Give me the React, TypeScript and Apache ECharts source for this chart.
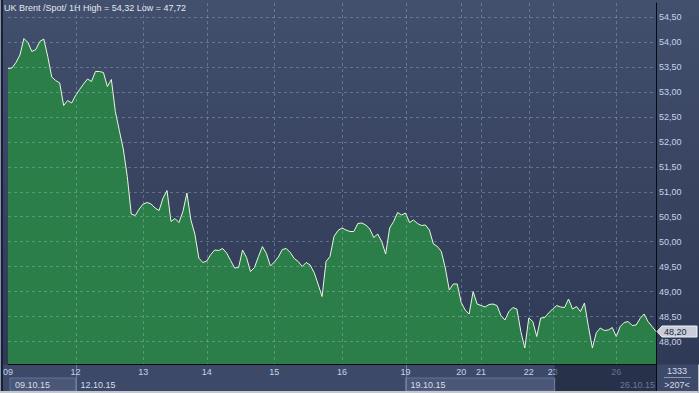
import React, { useEffect, useRef } from 'react';
import * as echarts from 'echarts';

// Hourly UK Brent spot values (left to right)
const values: number[] = [
  53.46, 53.47, 53.58, 53.73, 54.06, 53.98, 53.80, 53.84, 54.00, 54.05,
  53.70, 53.29, 53.22, 53.17, 52.72, 52.82, 52.77, 52.92, 53.04, 53.15,
  53.25, 53.20, 53.40, 53.40, 53.38, 53.10, 53.24, 52.60, 52.22, 51.85,
  51.30, 50.55, 50.52, 50.65, 50.75, 50.78, 50.75, 50.67, 50.62, 50.87,
  51.02, 50.40, 50.46, 50.38, 50.60, 50.97, 50.43, 50.15, 49.67, 49.58,
  49.61, 49.74, 49.83, 49.82, 49.86, 49.77, 49.62, 49.47, 49.48, 49.83,
  49.68, 49.40, 49.48, 49.70, 49.90, 49.76, 49.51, 49.59, 49.69, 49.84,
  49.86, 49.78, 49.66, 49.60, 49.50, 49.58, 49.53, 49.38, 49.15, 48.90,
  49.60, 49.70, 50.10, 50.22, 50.27, 50.23, 50.20, 50.20, 50.36, 50.37,
  50.33, 50.25, 50.08, 50.15, 50.00, 49.75, 50.27, 50.40, 50.58, 50.53,
  50.57, 50.38, 50.43, 50.36, 50.32, 50.33, 50.23, 49.95, 49.90, 49.80,
  49.47, 49.03, 49.15, 49.15, 48.78, 48.63, 48.55, 49.00, 48.75, 48.72,
  48.69, 48.74, 48.75, 48.72, 48.52, 48.43, 48.60, 48.68, 48.65, 48.20,
  47.87, 48.47, 48.40, 48.10, 48.47, 48.48, 48.57, 48.65, 48.72, 48.69,
  48.68, 48.85, 48.65, 48.70, 48.60, 48.77, 48.30, 47.87, 48.18, 48.27,
  48.22, 48.23, 48.28, 48.10, 48.30, 48.38, 48.40, 48.32, 48.33, 48.46,
  48.55, 48.40, 48.30, 48.20,
];

// Day ticks on the time axis (label, data index)
const dayLabels: string[] = ['09', '12', '13', '14', '15', '16', '19', '20', '21', '22', '23', '26'];
const dayIndex: number[] = [0, 17, 34, 50, 67, 84, 100, 114, 119, 131, 137, 153];

// Price ticks on the right axis
const yTicks: number[] = [48, 48.5, 49, 49.5, 50, 50.5, 51, 51.5, 52, 52.5, 53, 53.5, 54, 54.5];

// Week starts shown in the bottom bar
const weekLabels: string[] = ['09.10.15', '12.10.15', '19.10.15', '26.10.15'];
const weekIndex: number[] = [0, 17, 100, 153];

const titleText = 'UK Brent /Spot/ 1H High = 54,32 Low = 47,72';
const counterTop = '1333';
const counterBottom = '>207<';

const FONT = "'Liberation Sans', Arial, sans-serif";
const GRID_COLOR = 'rgba(170,190,225,0.36)';

export default function App() {
  const ref = useRef<HTMLDivElement>(null);

  useEffect(() => {
    document.body.style.margin = '0';
    if (!ref.current) return;
    const chart = echarts.init(ref.current, null, { renderer: 'svg' });
    const categories = values.map((_, i) => String(i));
    const labelAt: Record<number, string> = {};
    dayIndex.forEach((idx, k) => {
      labelAt[idx] = dayLabels[k];
    });
    const isDay = (i: number) => labelAt[i] !== undefined;
    const fmt = (v: number) => v.toFixed(2).replace('.', ',');

    chart.setOption({
      animation: false,
      backgroundColor: 'transparent',
      title: {
        text: titleText,
        left: 4,
        top: 3,
        padding: 0,
        textStyle: { color: '#e3e8f0', fontSize: 9, fontWeight: 'normal', fontFamily: FONT },
        z: 20,
      },
      grid: { left: 3, right: 43, top: 3, bottom: 29 },
      xAxis: {
        type: 'category',
        data: categories,
        boundaryGap: false,
        z: 6,
        axisLine: { lineStyle: { color: '#070a12', width: 1 } },
        axisTick: { show: false },
        axisLabel: {
          interval: (i: number) => isDay(i),
          formatter: (_v: string, i: number) => labelAt[i] ?? '',
          color: '#c6d3ea',
          fontSize: 9,
          margin: 3,
          fontFamily: FONT,
        },
        splitLine: { show: false },
      },
      yAxis: {
        type: 'value',
        position: 'right',
        min: 47.55,
        max: 54.77,
        splitNumber: 14,
        minInterval: 0.5,
        maxInterval: 0.5,
        z: 6,
        axisLine: { show: true, lineStyle: { color: '#070a12', width: 1 } },
        axisTick: { show: false },
        axisLabel: {
          formatter: (v: number) => fmt(v),
          showMinLabel: false,
          showMaxLabel: false,
          color: '#c6d3ea',
          fontSize: 9,
          margin: 3,
          fontFamily: FONT,
        },
        splitLine: { show: false },
      },
      series: [
        {
          type: 'line',
          data: values,
          symbol: 'none',
          showSymbol: false,
          z: 2,
          lineStyle: { color: '#e6f8df', width: 1 },
          areaStyle: { color: '#2c7e49', opacity: 1, origin: 'start' },
        },
      ],
    });

    const px = (i: number) => chart.convertToPixel({ xAxisIndex: 0 }, i) as number;
    const py = (v: number) => chart.convertToPixel({ yAxisIndex: 0 }, v) as number;
    const last = values[values.length - 1];
    const ly = py(last);
    const plotLeft = px(0);
    const plotRight = px(values.length - 1);
    const plotTop = py(54.77);
    const plotBottom = py(47.55);
    const barTop = 364.5;
    const overlayStart = px(dayIndex[10]) + 2;
    const snap = (v: number) => Math.round(v) + 0.5;

    const weekX = weekIndex.map((i) => px(i));
    const gridLines: any[] = [
      ...yTicks.map((v) => ({
        type: 'line',
        shape: { x1: plotLeft, y1: snap(py(v)), x2: plotRight, y2: snap(py(v)) },
        style: { stroke: GRID_COLOR, lineWidth: 1, lineDash: [3, 3] },
        z: 4,
        silent: true,
      })),
      ...dayIndex.slice(1).map((i) => ({
        type: 'line',
        shape: { x1: snap(px(i)), y1: plotTop, x2: snap(px(i)), y2: plotBottom },
        style: { stroke: GRID_COLOR, lineWidth: 1, lineDash: [3, 3] },
        z: 4,
        silent: true,
      })),
    ];

    const graphics: any[] = [
      ...gridLines,
      { type: 'rect', shape: { x: 0, y: barTop, width: 699, height: 29 }, style: { fill: '#3c4968' }, z: 1, silent: true },
      {
        type: 'rect',
        shape: { x: weekX[0] + 2, y: 378, width: weekX[1] - weekX[0] - 2, height: 13 },
        style: { fill: '#4a5777', stroke: '#64739a', lineWidth: 1 },
        z: 1,
      },
      {
        type: 'rect',
        shape: { x: weekX[2], y: 378, width: overlayStart - weekX[2], height: 13 },
        style: { fill: '#4a5777', stroke: '#64739a', lineWidth: 1 },
        z: 1,
      },
      ...[weekX[1], weekX[2]].map((x) => ({
        type: 'line',
        shape: { x1: snap(x), y1: barTop, x2: snap(x), y2: 391 },
        style: { stroke: '#6f7e9e', lineWidth: 1 },
        z: 2,
      })),
      ...weekLabels.slice(0, 3).map((t, k) => ({
        type: 'text',
        x: weekX[k] + (k === 0 ? 7 : 5),
        y: 384.5,
        style: { text: t, fill: '#d6deec', fontSize: 9, fontFamily: FONT, verticalAlign: 'middle', align: 'left' },
        z: 5,
      })),
      {
        type: 'rect',
        shape: { x: overlayStart, y: barTop, width: plotRight - overlayStart, height: 391 - barTop },
        style: { fill: 'rgba(22,30,50,0.55)' },
        z: 10,
      },
      {
        type: 'line',
        shape: { x1: overlayStart, y1: 378, x2: overlayStart, y2: 391 },
        style: { stroke: '#6f7e9e', lineWidth: 1 },
        z: 11,
      },
      {
        type: 'text',
        x: plotRight - 1,
        y: 384.5,
        style: { text: weekLabels[3], fill: '#6d7995', fontSize: 9, fontFamily: FONT, verticalAlign: 'middle', align: 'right' },
        z: 11,
      },
      {
        type: 'line',
        shape: { x1: snap(plotRight), y1: barTop - 1, x2: snap(plotRight), y2: 391 },
        style: { stroke: '#070a12', lineWidth: 1 },
        z: 12,
      },
      {
        type: 'text',
        x: 677,
        y: 371,
        style: { text: counterTop, fill: '#d6deec', fontSize: 9, fontFamily: FONT, verticalAlign: 'middle', align: 'center' },
        z: 12,
      },
      {
        type: 'line',
        shape: { x1: 664, y1: 377.5, x2: 691, y2: 377.5 },
        style: { stroke: '#8a98b6', lineWidth: 1 },
        z: 12,
      },
      {
        type: 'text',
        x: 677,
        y: 384.5,
        style: { text: counterBottom, fill: '#d6deec', fontSize: 9, fontFamily: FONT, verticalAlign: 'middle', align: 'center' },
        z: 12,
      },
      {
        type: 'polygon',
        shape: {
          points: [
            [plotRight + 1, ly],
            [plotRight + 6, ly - 5.5],
            [697, ly - 5.5],
            [697, ly + 5.5],
            [plotRight + 6, ly + 5.5],
          ],
        },
        style: { fill: '#c9ced9', stroke: '#eef0f4', lineWidth: 1 },
        z: 15,
      },
      {
        type: 'text',
        x: plotRight + 8,
        y: ly + 0.5,
        style: { text: fmt(last), fill: '#1a2238', fontSize: 9, fontFamily: FONT, verticalAlign: 'middle', align: 'left' },
        z: 16,
      },
      { type: 'rect', shape: { x: 0, y: 0, width: 1, height: 393 }, style: { fill: '#8593b0' }, z: 20 },
      { type: 'rect', shape: { x: 1, y: 0, width: 2, height: 391 }, style: { fill: '#1a2133' }, z: 20 },
      { type: 'rect', shape: { x: 0, y: 391, width: 699, height: 2 }, style: { fill: '#c4c7ce' }, z: 20 },
      { type: 'rect', shape: { x: 698, y: barTop, width: 1, height: 29 }, style: { fill: '#b0b6c2' }, z: 20 },
    ];

    chart.setOption({ graphic: graphics });

    return () => {
      chart.dispose();
    };
  }, []);

  return (
    <div
      ref={ref}
      style={{
        width: 699,
        height: 393,
        background: 'linear-gradient(180deg, #424f6d 0%, #37435f 50%, #2d3855 100%)',
      }}
    />
  );
}
